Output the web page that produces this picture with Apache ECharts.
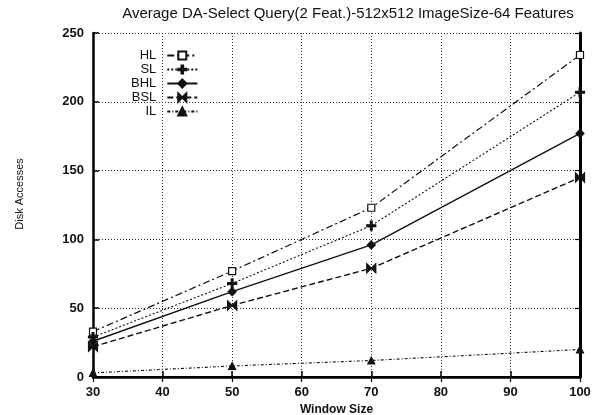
<!DOCTYPE html>
<html><head><meta charset="utf-8">
<script src="https://cdn.jsdelivr.net/npm/echarts@6/dist/echarts.min.js"></script>
<style>html,body{margin:0;padding:0;background:#fff}#c{width:608px;height:415px}</style>
</head><body><div id="c"></div>
<script>
const windowSizes = [30, 50, 70, 100];
const seriesNames = ['HL', 'SL', 'BHL', 'BSL', 'IL'];
const hlValues  = [33, 77, 123, 234];
const slValues  = [29, 68, 110, 207];
const bhlValues = [26, 62, 96, 177];
const bslValues = [22, 52, 79, 145];
const ilValues  = [3, 8, 12, 20];
const xTicks = [30, 40, 50, 60, 70, 80, 90, 100];
const yTicks = [0, 50, 100, 150, 200, 250];

const allValues = [hlValues, slValues, bhlValues, bslValues, ilValues];
const styles = [
  {symbol: 'rect', size: 7, fill: '#fff', dash: [7, 3, 2, 3], width: 1.2},
  {symbol: 'path://M4,0h2v10h-2zM0,4h10v2h-10z', size: 9, fill: '#111', dash: [2, 2], width: 1.1},
  {symbol: 'diamond', size: 8, fill: '#111', dash: 'solid', width: 1.4},
  {symbol: 'path://M0,0L10,10L10,0L0,10Z', size: 9, fill: '#111', dash: [6, 3], width: 1.4},
  {symbol: 'triangle', size: 7, fill: '#111', dash: [3, 2, 1, 2], width: 1.1}
];

const series = seriesNames.map((n, i) => ({
  name: n,
  type: 'line',
  data: windowSizes.map((x, j) => [x, allValues[i][j]]),
  symbol: styles[i].symbol,
  symbolSize: styles[i].size,
  showAllSymbol: true,
  itemStyle: {color: styles[i].fill, borderColor: '#111', borderWidth: 1.2},
  lineStyle: {color: '#111', type: styles[i].dash, width: styles[i].width},
  z: 3
}));

const font = '"Liberation Sans", Arial, sans-serif';
const chart = echarts.init(document.getElementById('c'), null, {renderer: 'canvas'});
chart.setOption({
  animation: false,
  backgroundColor: '#fff',
  title: {
    text: 'Average DA-Select Query(2 Feat.)-512x512 ImageSize-64 Features',
    left: 343, top: 1, textAlign: 'center',
    textStyle: {fontFamily: font, fontSize: 15, fontWeight: 'normal', color: '#111'}
  },
  grid: {left: 93, right: 28, top: 33, bottom: 38, containLabel: false, outerBoundsMode: 'none'},
  legend: {
    orient: 'vertical', left: 126, top: 44, itemGap: 1,
    align: 'right', itemWidth: 30, itemHeight: 10,
    data: seriesNames,
    textStyle: {fontFamily: font, fontSize: 13, color: '#111', width: 30, align: 'right', padding: [0, 6, 0, 0]}
  },
  xAxis: [{
    type: 'value', min: 30, max: 100, interval: 10,
    name: 'Window Size', nameLocation: 'middle', nameGap: 17,
    nameTextStyle: {fontFamily: font, fontSize: 12, fontWeight: 'bold', color: '#111'},
    axisLine: {show: true, lineStyle: {color: '#000', width: 2.5}},
    axisTick: {show: true, inside: true, length: 6, lineStyle: {color: '#000', width: 1.5}},
    axisLabel: {fontFamily: font, fontSize: 13, fontWeight: 'bold', color: '#111', margin: 9,
      formatter: v => xTicks.includes(v) ? String(v) : ''},
    splitLine: {show: true, lineStyle: {color: '#333', type: [1, 2], width: 1}}
  }, {
    type: 'value', min: 30, max: 100, interval: 10, position: 'top',
    axisLine: {show: true, lineStyle: {color: '#000', width: 2}},
    axisTick: {show: true, inside: true, length: 5, lineStyle: {color: '#000', width: 1.2}},
    axisLabel: {show: false}, splitLine: {show: false}
  }],
  yAxis: [{
    type: 'value', min: 0, max: 250, interval: 50,
    name: 'Disk Accesses', nameLocation: 'middle', nameGap: 68, nameRotate: 90,
    nameTextStyle: {fontFamily: font, fontSize: 11, color: '#111', padding: [0, 0, 0, 22]},
    axisLine: {show: true, lineStyle: {color: '#000', width: 2.5}},
    axisTick: {show: true, inside: true, length: 6, lineStyle: {color: '#000', width: 1.5}},
    axisLabel: {fontFamily: font, fontSize: 13, fontWeight: 'bold', color: '#111', margin: 9,
      formatter: v => yTicks.includes(v) ? String(v) : ''},
    splitLine: {show: true, lineStyle: {color: '#333', type: [1, 2], width: 1}}
  }, {
    type: 'value', min: 0, max: 250, interval: 50, position: 'right',
    axisLine: {show: true, lineStyle: {color: '#000', width: 3}},
    axisTick: {show: true, inside: true, length: 5, lineStyle: {color: '#000', width: 1.2}},
    axisLabel: {show: false}, splitLine: {show: false}
  }],
  series: series
});
</script></body></html>
